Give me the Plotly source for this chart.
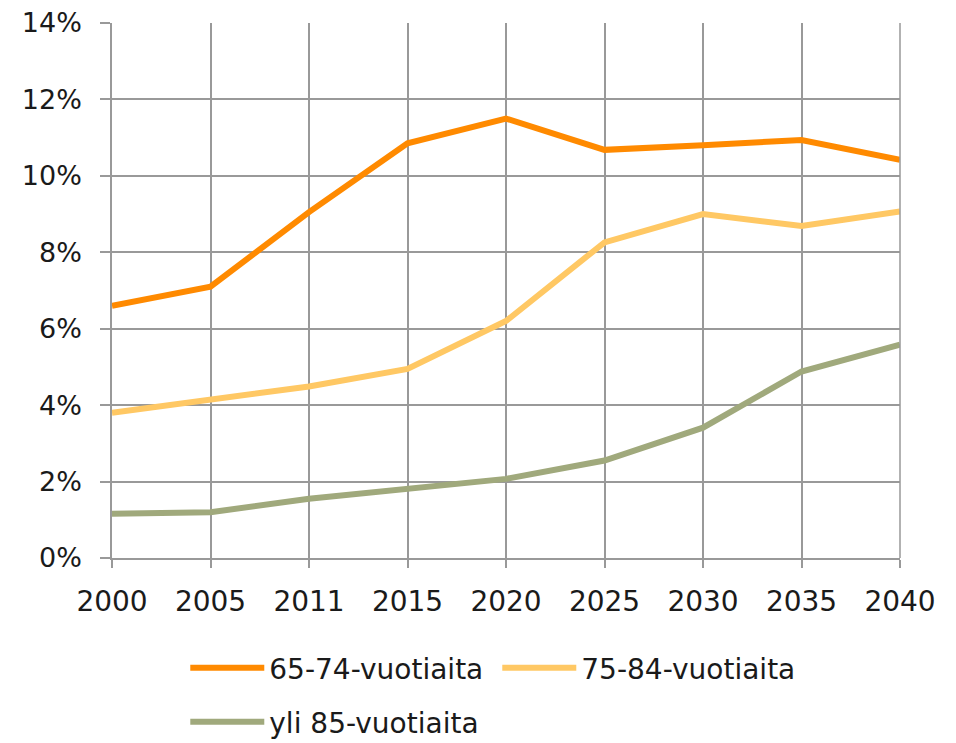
import plotly.graph_objects as go

years = ["2000", "2005", "2011", "2015", "2020", "2025", "2030", "2035", "2040"]
age_65_74 = [6.6, 7.1, 9.05, 10.85, 11.5, 10.68, 10.8, 10.94, 10.42]
age_75_84 = [3.8, 4.16, 4.49, 4.95, 6.2, 8.26, 9.0, 8.69, 9.07]
age_85_plus = [1.16, 1.2, 1.55, 1.81, 2.07, 2.55, 3.41, 4.88, 5.58]
series_names = ["65-74-vuotiaita", "75-84-vuotiaita", "yli 85-vuotiaita"]
colors = ["#FF8A00", "#FFC864", "#A0A97C"]
y_ticks = [0, 2, 4, 6, 8, 10, 12, 14]
y_tick_labels = [f"{v}%" for v in y_ticks]

FONT = "DejaVu Sans"
TXT = "#1a1a1a"
fig = go.Figure()
for vals, name, col, lg in zip([age_65_74, age_75_84, age_85_plus], series_names, colors,
                               ["legend", "legend", "legend2"]):
    fig.add_trace(go.Scatter(x=years, y=vals, name=name, mode="lines",
                             line=dict(color=col, width=6), legend=lg))

grid = "#999999"
fig.update_layout(
    width=948, height=735,
    margin=dict(l=104, r=56, t=15, b=185),
    paper_bgcolor="white", plot_bgcolor="white",
    font=dict(family=FONT, color=TXT),
    showlegend=True,
    legend=dict(orientation="h", x=0.093, xanchor="left", yref="container",
                y=0.102, yanchor="middle",
                font=dict(size=28, family=FONT, color=TXT), itemwidth=74,
                entrywidth=223, entrywidthmode="pixels", bgcolor="rgba(0,0,0,0)"),
    legend2=dict(orientation="h", x=0.093, xanchor="left", yref="container",
                 y=0.0286, yanchor="middle",
                 font=dict(size=28, family=FONT, color=TXT), itemwidth=74,
                 bgcolor="rgba(0,0,0,0)"),
    xaxis=dict(type="category", range=[0, 8], showgrid=True, gridcolor=grid, gridwidth=1.5,
               showline=True, linecolor=grid, linewidth=1.5, mirror=False, automargin=False,
               ticks="outside", ticklen=8, tickcolor=grid, tickwidth=1.5,
               ticklabelstandoff=10, ticklabeloverflow="allow",
               tickfont=dict(size=28, family=FONT, color=TXT), zeroline=False),
    yaxis=dict(range=[0, 14], tickvals=y_ticks, ticktext=y_tick_labels, automargin=False,
               showgrid=True, gridcolor=grid, gridwidth=1.5,
               showline=True, linecolor=grid, linewidth=1.5,
               ticks="outside", ticklen=10, tickcolor=grid, tickwidth=1.5,
               ticklabelstandoff=13, ticklabeloverflow="allow",
               tickfont=dict(size=27, family=FONT, color=TXT), zeroline=False),
)
fig.add_shape(type="line", xref="paper", yref="paper", x0=1, x1=1, y0=0, y1=1,
              line=dict(color=grid, width=1.5))
fig.write_html("out.html")
